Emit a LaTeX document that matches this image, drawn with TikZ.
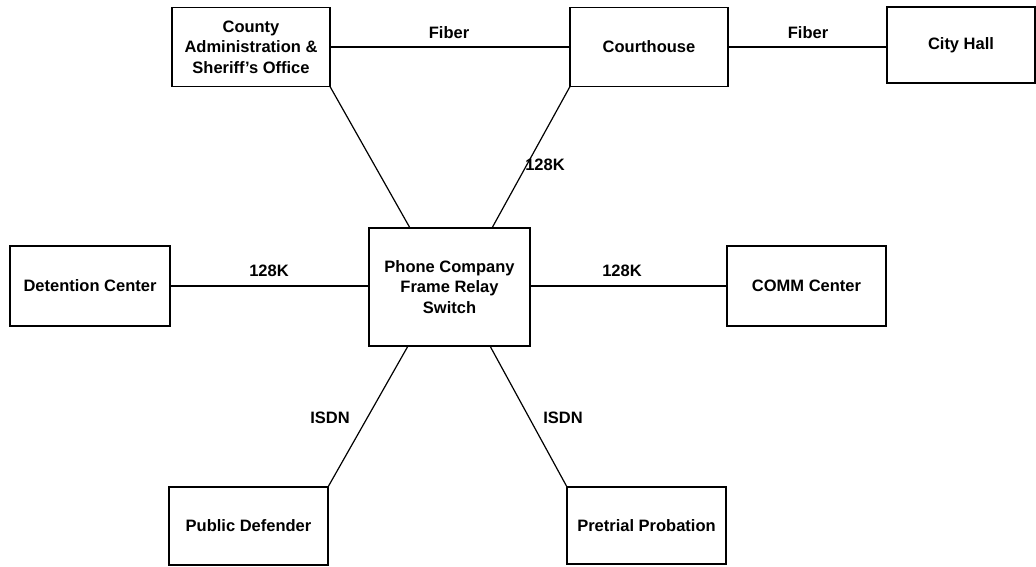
\documentclass[tikz,border=0pt]{standalone}
\usepackage{fontspec}
\setmainfont{Liberation Sans}
\begin{document}
\begin{tikzpicture}[x=1pt,y=-1pt,
  box/.style={draw, line width=1.4pt, inner sep=0pt, outer sep=0pt, align=center,
    font=\fontsize{16.5}{20.5}\selectfont\bfseries},
  lbl/.style={inner sep=0pt, font=\fontsize{16.5}{20.5}\selectfont\bfseries},
  link/.style={line width=1.2pt}]
\useasboundingbox (0,0) rectangle (1036,567);
\node[box, minimum width=158pt, minimum height=79pt] (county) at (251,47) {County\\Administration \&\\Sheriff\char"0027 s Office};
\node[box, minimum width=158pt, minimum height=79pt] (court) at (649,47) {Courthouse};
\node[box, minimum width=148pt, minimum height=76pt] (city) at (961,45) {City Hall};
\node[box, minimum width=160pt, minimum height=80pt] (det) at (90,286) {Detention Center};
\node[box, minimum width=161pt, minimum height=118pt] (phone) at (449.5,287) {Phone Company\\Frame Relay\\Switch};
\node[box, minimum width=159pt, minimum height=80pt] (comm) at (806.5,286) {COMM Center};
\node[box, minimum width=159pt, minimum height=78pt] (pd) at (248.5,526) {Public Defender};
\node[box, minimum width=159pt, minimum height=77pt] (pre) at (646.5,525.5) {Pretrial Probation};

\draw[link] (county.east) -- (court.west);
\draw[link] (court.east) -- (city.west |- court.east);
\draw[link] (county.south east) -- ([xshift=41pt]phone.north west);
\draw[link] (court.south west) -- ([xshift=123pt]phone.north west);
\draw[link] (det.east) -- (phone.west |- det.east);
\draw[link] (phone.east |- comm.west) -- (comm.west);
\draw[link] ([xshift=39pt]phone.south west) -- (pd.north east);
\draw[link] ([xshift=121pt]phone.south west) -- (pre.north west);

\node[lbl] (l1) at (449,33) {Fiber};
\node[lbl] (l2) at (808,33) {Fiber};
\node[lbl] (l3) at (545,165) {128K};
\node[lbl] (l4) at (269,271) {128K};
\node[lbl] (l5) at (622,271) {128K};
\node[lbl] (l6) at (330,418) {ISDN};
\node[lbl] (l7) at (563,418) {ISDN};
\end{tikzpicture}
\end{document}
